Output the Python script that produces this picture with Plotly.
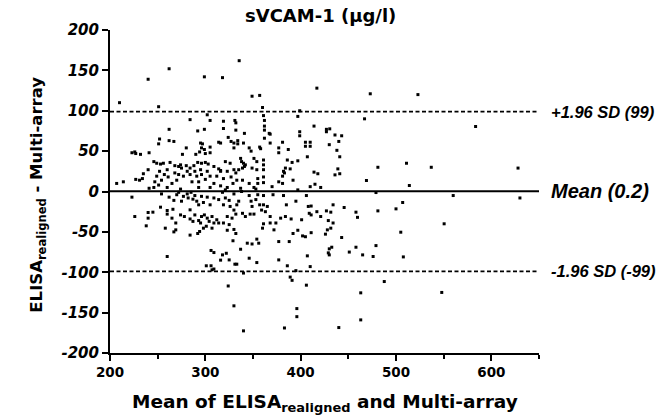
import plotly.graph_objects as go

# ---- data (mean of methods, difference) ----
pts_upper_left = [
    (210,110),(251,105),(284,89),(302,95),(305,88),(262,77),(292,75),(299,77),(252,65),(251,59),
    (262,63),(267,62),(295,60),(297,59),(314,61),(305,55),(296,54),(280,54),(223,48),(226,49),
    (227,47),(232,46),(241,48),(276,46),(290,46),(294,49),(299,52),(300,47),(305,48),(246,37),
    (249,35),(253,34),(256,35),(263,36),(268,32),(272,31),(274,33),(280,32),(284,29),(288,32),
    (292,36),(296,35),(300,36),(303,34),(309,31),(314,28),(207,10),(214,12),(227,15),(231,14),
    (234,16),(235,22),(240,27),(241,4),(247,12),(249,19),(251,8),(252,25),(254,14),(257,21),
    (260,27),(261,18),(265,10),(270,14),(268,23),(272,21),(275,29),(277,19),(281,25),(284,21),
    (286,12),(289,25),(291,19),(293,12),(295,27),(296,21),(300,15),(302,25),(305,19),(309,10),
    (312,19),(316,25),(246,5),(260,5),(274,3),(293,5),(305,5),
]
pts_upper_mid = [
    (360,104),(399,100),(397,93),(361,94),(319,87),(331,88),(332,85),(362,88),(319,78),(362,81),
    (332,76),(341,72),(362,76),(367,72),(368,71),(414,81),(399,74),(399,69),(316,60),(324,67),
    (327,62),(330,60),(334,63),(334,59),(340,60),(362,66),(368,60),(381,61),(405,61),(410,61),
    (405,56),(410,56),(330,54),(346,54),(348,50),(357,55),(358,53),(377,54),(387,52),(377,48),
    (407,43),(321,37),(326,35),(337,41),(338,37),(340,35),(341,31),(351,41),(354,37),(361,39),
    (361,33),(386,39),(391,36),(397,38),(316,26),(323,25),(330,27),(332,23),(335,27),(339,29),
    (342,33),(349,29),(354,27),(361,27),(382,25),(384,29),(389,28),(319,16),(327,18),(333,14),
    (339,14),(355,16),(361,18),(381,19),(383,23),(392,14),(414,24),(418,22),(316,7),(323,5),
    (329,10),(337,4),(346,10),(351,5),(355,10),(361,11),(370,6),(377,12),(381,10),(410,6),
    (415,9),(421,5),(353,3),(397,2),(321,2),
]
pts_lower_left = [
    (223,-7),(254,-3),(262,-7),(267,-11),(270,-4),(272,-1),(275,-12),(277,-6),(281,-3),(282,-8),
    (285,-1),(287,-9.5),(289,-5),(291,-12),(293,-16.5),(296,-6),(298,-13.6),(302,-7),(305,-16.5),
    (309,-8),(314,-10),(253,-19.4),(260,-23.5),(266,-22),(260,-28),(226,-31),(240,-26),(245,-25.6),
    (240,-33),(274,-29),(278,-31),(284,-22.7),(284,-34),(287,-37),(289,-29),(293,-36),(295,-39),
    (296,-31),(299,-29),(302,-33),(304,-37),(307,-31),(309,-39),(312,-35),(314,-39),(265,-33),
    (269,-39),(238,-42.5),(258,-45.4),(269,-47.5),(267,-50),(284,-54),(292,-52),(294,-49.5),
    (298,-45.4),(301,-43),(307,-45.4),(260,-80.5),(306,-73),(309,-75.6),(301,-92),(306,-92),
    (309,-96),(307,-97),
]
pts_lower_mid = [
    (318,-1),(321,-8),(319,-16.5),(325,-11),(326,-18.5),(330,-3),(330,-23),(333,-16.5),(335,-12),
    (338,0),(339,-27),(342,-31),(332,-28),(328,-33),(323,-31),(319,-39),(325,-41),(330,-47),
    (323,-48),(332,-52),(329,-61),(346,-5),(348,-12),(349,-18.5),(351,-28),(347,-28),(353,-10),
    (355,-4),(357,-16.5),(359,-23),(361,-5),(361,-16.5),(363,-25),(365,-18.5),(368,-31),(371,-4),
    (374,-39),(361,-40),(360,-45.4),(368,-39),(372,-47.5),(382,-5),(379,-33),(384,-31),(385,-16.5),
    (390,-34),(395,-12),(401,-35),(406,-5),(408,-18.5),(411,-18),(409,-27),(411,-29),(417,-25),
    (421,-31),(392,-52),(397,-48),(402,-55),(405,-56),(411,-51),(377,-62),(388,-62),(354,-59),
    (349,-65),(344,-64),(356,-64),(337,-71.5),(346,-82.6),(354,-88),(322,-76.5),(325,-84.7),
    (331,-90),(333,-90),(377,-84.7),(407,-79.7),(386,-92),(395,-98),(389,-106),(391,-110),
    (318,-78.5),(316,-85),(340,-101),(410,-93),
]
pts_right = [
    (467,90),(427,77),(430.5,77.6),(427,74),(436,70),(443,69),(440,62),(430,58),(438,51),(441,43),
    (439,28),(436,20.6),(441,22),(481,30),(511,35),(537,30),(469,13.6),(514,7.4),(479,-1.3),
    (434,-16.5),(427,-24),(431.6,-25.6),(445.6,-19.8),(458,-25.6),(459.6,-32),(481,-24),(500,-21.5),
    (507,-13.6),(429,-36),(434,-39),(428,-47.5),(431.6,-45.4),(426,-52.8),(443,-57),(505,-50.4),
    (432.6,-69),(430,-71),(429,-76),(430,-78.5),(451,-75),(458,-69),(465,-78.5),(479,-67),
    (476,-80.5),(507.7,-81),(487.7,-111.5),
]
pts_outliers = [
    (473,121),(523,120),(583.5,80.5),(628,29),(560,-5),(630,-8),(550.5,-40),(463,-125.5),
    (548,-125),(463,-159),(440,-168.5),(240,139),(262,152),(299,142),(318,141),(335.5,162),
    (349,118),(357,119),(417,128),(324,-117),(330,-141.6),(340,-172.6),(383,-169),(396,-145),
    (396,-155),(406,-116),
]

mean_diff = 0.2
upper_loa = 99
lower_loa = -99
label_upper = "+1.96 SD (99)"
label_mean = "Mean (0.2)"
label_lower = "-1.96 SD (-99)"
x_ticks = [200, 300, 400, 500, 600]
y_ticks = [-200, -150, -100, -50, 0, 50, 100, 150, 200]

all_pts = pts_upper_left + pts_upper_mid + pts_lower_left + pts_lower_mid + pts_right + pts_outliers
xs = [p[0] for p in all_pts]
ys = [p[1] for p in all_pts]

WIDE = "DejaVu Sans, Liberation Sans, Arial, sans-serif"
ARIAL = "Liberation Sans, Arial, sans-serif"

fig = go.Figure()
fig.add_trace(go.Scatter(
    x=xs, y=ys, mode="markers",
    marker=dict(symbol="square", size=3, color="black", line=dict(width=0)),
    showlegend=False, hoverinfo="skip",
))

fig.add_hline(y=mean_diff, line=dict(color="black", width=2))
fig.add_hline(y=upper_loa, line=dict(color="black", width=1.8, dash="4px,2.5px"))
fig.add_hline(y=lower_loa, line=dict(color="black", width=1.8, dash="4px,2.5px"))

for yv, txt, sz in [(upper_loa, label_upper, 16.5), (mean_diff, label_mean, 20), (lower_loa, label_lower, 16.5)]:
    fig.add_annotation(x=1, xref="paper", y=yv, yref="y", xanchor="left", yanchor="middle",
                       xshift=10, text=txt, showarrow=False,
                       font=dict(family=ARIAL, size=sz, color="black", weight="bold", style="italic"))

fig.add_annotation(x=0.49, xref="paper", y=1.045, yref="paper", xanchor="center", yanchor="middle",
                   text="sVCAM-1 (µg/l)", showarrow=False,
                   font=dict(family=WIDE, size=18, color="black", weight="bold"))
fig.add_annotation(x=-0.168, xref="paper", y=0.49, yref="paper", xanchor="center", yanchor="middle",
                   textangle=-90, text="ELISA<sub>realigned</sub> - Multi-array", showarrow=False,
                   font=dict(family=WIDE, size=16.5, color="black", weight="bold"))
fig.add_annotation(x=0.5, xref="paper", y=-0.155, yref="paper", xanchor="center", yanchor="middle",
                   text="Mean of ELISA<sub>realigned</sub> and Multi-array", showarrow=False,
                   font=dict(family=WIDE, size=18.5, color="black", weight="bold"))

fig.update_layout(
    width=666, height=417,
    margin=dict(l=110, r=127, t=30, b=64),
    paper_bgcolor="white", plot_bgcolor="white",
    showlegend=False,
)
fig.update_xaxes(
    range=[200, 650], tickvals=x_ticks, ticktext=[str(v) for v in x_ticks],
    showgrid=False, zeroline=False, showline=True, linecolor="black", linewidth=2,
    ticks="outside", ticklen=6, tickwidth=2, tickcolor="black",
    minor=dict(dtick=50, tick0=200, ticks="outside", ticklen=4, tickwidth=2, tickcolor="black", showgrid=False),
    tickfont=dict(family=WIDE, size=13.5, color="black", weight="bold"),
)
fig.update_yaxes(
    range=[-200, 200], tickvals=y_ticks, ticktext=[str(v) for v in y_ticks],
    showgrid=False, zeroline=False, showline=True, linecolor="black", linewidth=2,
    ticks="outside", ticklen=6, tickwidth=2, tickcolor="black",
    tickfont=dict(family=WIDE, size=15, color="black", weight="bold", style="italic"),
)

fig.write_html("out.html", config={"displayModeBar": False},
               post_script="document.body.style.margin='0';document.body.style.overflow='hidden';")
